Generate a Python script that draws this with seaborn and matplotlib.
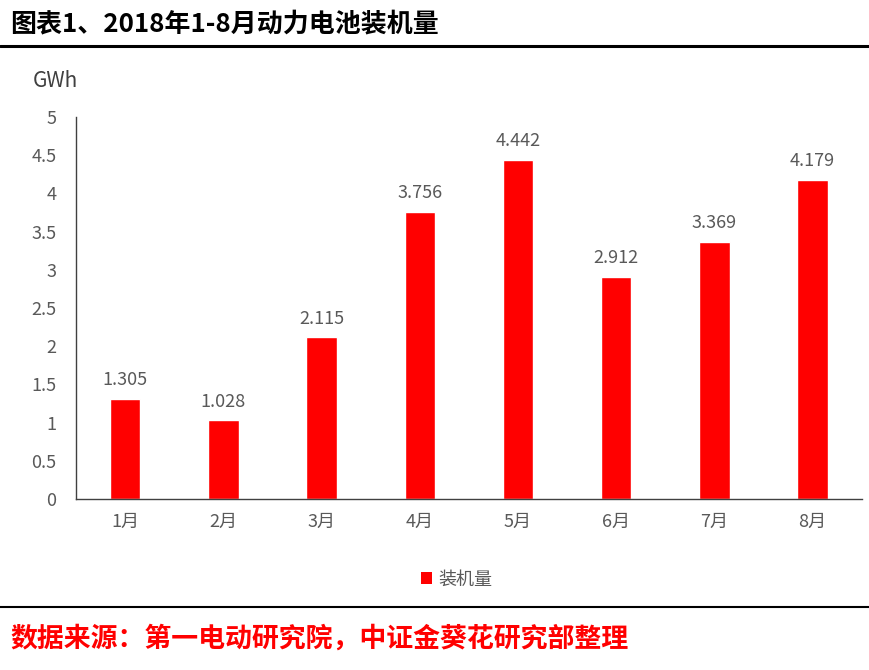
import matplotlib
matplotlib.use("Agg")
import matplotlib.pyplot as plt
import seaborn as sns
import pandas as pd
from matplotlib.lines import Line2D
from matplotlib.patches import Patch

# Données
months = ["1月", "2月", "3月", "4月", "5月", "6月", "7月", "8月"]
installed = [1.305, 1.028, 2.115, 3.756, 4.442, 2.912, 3.369, 4.179]
yticks = [0, 0.5, 1, 1.5, 2, 2.5, 3, 3.5, 4, 4.5, 5]
ytick_labels = ["0", "0.5", "1", "1.5", "2", "2.5", "3", "3.5", "4", "4.5", "5"]

df = pd.DataFrame({"month": months, "value": installed})

sns.set_style("white")
plt.rcParams["font.family"] = ["Noto Sans CJK SC", "DejaVu Sans"]

fig = plt.figure(figsize=(8.7, 6.7), dpi=100)
ax = fig.add_axes([0.0874, 0.2552, 0.903, 0.570])

sns.barplot(data=df, x="month", y="value", color="#ff0000", width=0.31,
            saturation=1, ax=ax)

grey = "#595959"
for i, v in enumerate(installed):
    ax.text(i, v + 0.13, "{:.3f}".format(v), ha="center", va="bottom",
            fontsize=13, color=grey)

ax.set_ylim(0, 5)
ax.set_xlim(-0.5, 7.5)
ax.set_yticks(yticks)
ax.set_yticklabels(ytick_labels)
ax.tick_params(axis="both", length=0, labelsize=13, labelcolor=grey)
ax.tick_params(axis="x", pad=10)
ax.tick_params(axis="y", pad=14)
ax.set_xlabel("")
ax.set_ylabel("")
for s in ["top", "right"]:
    ax.spines[s].set_visible(False)
ax.spines["left"].set_color("#404040")
ax.spines["bottom"].set_color("#404040")
ax.spines["left"].set_linewidth(1)
ax.spines["bottom"].set_linewidth(1)

fig.text(0.038, 0.879, "GWh", fontsize=15, color="#404040", ha="left", va="center")

# Légende
handle = Patch(facecolor="#ff0000", edgecolor="none")
fig.legend([handle], ["装机量"], loc="center", bbox_to_anchor=(0.525, 0.135),
           frameon=False, fontsize=13, labelcolor=grey, handlelength=0.6,
           handleheight=0.6, handletextpad=0.4)

# Titre et source
fig.text(0.012, 0.965, "图表1、2018年1-8月动力电池装机量", fontsize=18.7,
         fontweight="bold", color="black", ha="left", va="center")
fig.add_artist(Line2D([0, 1], [0.931, 0.931], color="black", lw=2.2))
fig.add_artist(Line2D([0, 1], [0.094, 0.094], color="black", lw=1.5))
fig.text(0.012, 0.047, "数据来源：第一电动研究院，中证金葵花研究部整理", fontsize=19.4,
         fontweight="bold", color="#ff0000", ha="left", va="center")

fig.savefig("out.png", dpi=100)
